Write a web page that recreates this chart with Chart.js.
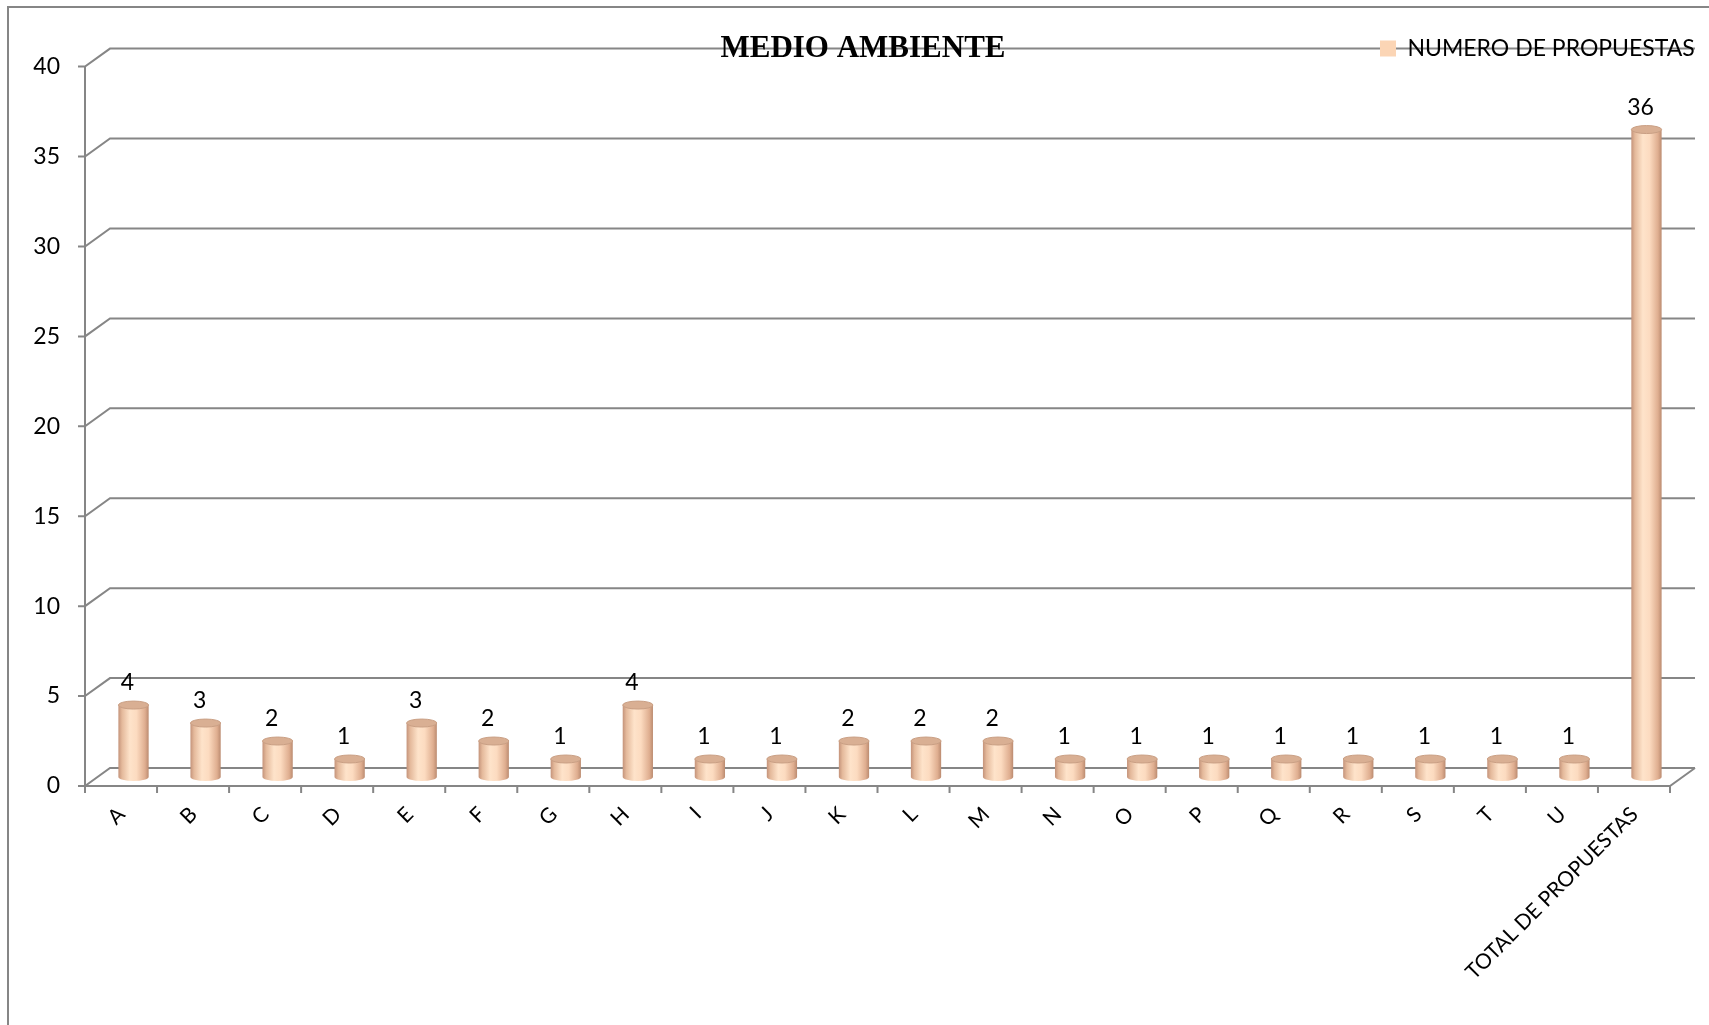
<!DOCTYPE html>
<html>
<head>
<meta charset="utf-8">
<script src="https://cdn.jsdelivr.net/npm/chart.js@4/dist/chart.umd.min.js"></script>
<style>
html,body{margin:0;padding:0;background:#fff;overflow:hidden}
#wrap{width:1709px;height:1025px;position:relative}
</style>
</head>
<body>
<div id="wrap"><canvas id="c"></canvas></div>
<script>
// ---- data ----
const chartTitle = 'MEDIO AMBIENTE';
const seriesName = 'NUMERO DE PROPUESTAS';
const categories = ['A','B','C','D','E','F','G','H','I','J','K','L','M','N','O','P','Q','R','S','T','U','TOTAL DE PROPUESTAS'];
const propuestas = [4,3,2,1,3,2,1,4,1,1,2,2,2,1,1,1,1,1,1,1,1,36];
const yTickValues = [0,5,10,15,20,25,30,35,40];

// ---- styling constants ----
const DX = 12.5, DY = 9;           // half depth of the pseudo-3D box
const GRID = '#868686';
const FONT = 'Lato';
const FLAT = '#fbd5b5';

function cylGradient(ctx, cx, hw) {
  if (!isFinite(cx) || !isFinite(hw) || hw <= 0) return FLAT;
  const g = ctx.createLinearGradient(cx - hw, 0, cx + hw, 0);
  g.addColorStop(0, '#c4937a');
  g.addColorStop(0.12, '#e4b99b');
  g.addColorStop(0.38, '#fee3ca');
  g.addColorStop(0.6, '#fcdbc0');
  g.addColorStop(0.88, '#dfae90');
  g.addColorStop(1, '#bb8b70');
  return g;
}

const depthPlugin = {
  id: 'depth',
  beforeDraw(chart) {
    const {ctx, chartArea: a, scales: {x, y}} = chart;
    // legend on the title line, top right (vertical-mode legend box)
    const lg = chart.legend;
    if (lg) {
      const w = lg.right - lg.left, h = lg.bottom - lg.top;
      lg.left = 1370; lg.right = lg.left + w;
      lg.top = 27; lg.bottom = lg.top + h;
    }
    // centre the title like the original
    const tb = chart.titleBlock;
    if (tb) { tb.left = 43.5; }
    ctx.save();
    ctx.strokeStyle = GRID;
    ctx.lineWidth = 2;
    // outer frame
    ctx.beginPath();
    ctx.moveTo(8, chart.height); ctx.lineTo(8, 7); ctx.lineTo(chart.width, 7);
    ctx.stroke();
    // wall gridlines + side diagonals + y tick marks
    y.ticks.forEach(t => {
      const py = y.getPixelForValue(t.value);
      ctx.beginPath();
      ctx.moveTo(a.left - DX - 7, py + DY);
      ctx.lineTo(a.left - DX, py + DY);
      ctx.lineTo(a.left + DX, py - DY);
      ctx.lineTo(a.right + DX, py - DY);
      ctx.stroke();
    });
    // front axes and floor
    const y0 = y.getPixelForValue(y.min), yTop = y.getPixelForValue(y.max);
    ctx.beginPath();
    ctx.moveTo(a.left - DX, yTop + DY);
    ctx.lineTo(a.left - DX, y0 + DY);
    ctx.lineTo(a.right - DX, y0 + DY);
    ctx.lineTo(a.right + DX, y0 - DY);
    ctx.stroke();
    // x tick marks at category boundaries
    const n = chart.data.labels.length;
    const half = (x.getPixelForValue(1) - x.getPixelForValue(0)) / 2;
    ctx.beginPath();
    for (let i = 0; i <= n; i++) {
      const px = x.getPixelForValue(i) - half - DX;
      ctx.moveTo(px, y0 + DY);
      ctx.lineTo(px, y0 + DY + 7);
    }
    ctx.stroke();
    ctx.restore();
  },
  afterDatasetsDraw(chart) {
    const {ctx} = chart;
    const meta = chart.getDatasetMeta(0);
    const data = chart.data.datasets[0].data;
    ctx.save();
    meta.data.forEach((bar, i) => {
      const hw = bar.width / 2, ry = 4;
      // bottom rounded edge
      ctx.fillStyle = cylGradient(ctx, bar.x, hw);
      ctx.beginPath();
      ctx.ellipse(bar.x, bar.base, hw, ry, 0, 0, Math.PI);
      ctx.fill();
      // top cap
      ctx.fillStyle = '#d9af93';
      ctx.strokeStyle = '#c99f84';
      ctx.lineWidth = 1;
      ctx.beginPath();
      ctx.ellipse(bar.x, bar.y, hw, ry, 0, 0, Math.PI * 2);
      ctx.fill();
      ctx.stroke();
      // value label
      ctx.fillStyle = '#000';
      ctx.font = '23px ' + FONT;
      ctx.textAlign = 'center';
      ctx.textBaseline = 'middle';
      ctx.fillText(String(data[i]), bar.x - 6, bar.y - 22);
    });
    ctx.restore();
  }
};

new Chart(document.getElementById('c'), {
  type: 'bar',
  data: {
    labels: categories,
    datasets: [{
      label: seriesName,
      data: propuestas,
      borderWidth: 0,
      barPercentage: 0.42,
      categoryPercentage: 1.0,
      backgroundColor: (c) => {
        const ch = c.chart;
        if (c.dataIndex === undefined || !ch.scales || !ch.scales.x || !ch.chartArea) return FLAT;
        const xs = ch.scales.x;
        const cx = xs.getPixelForValue(c.dataIndex);
        const hw = (xs.getPixelForValue(1) - xs.getPixelForValue(0)) * 0.42 / 2;
        return cylGradient(ch.ctx, cx, hw);
      }
    }]
  },
  options: {
    responsive: true,
    maintainAspectRatio: false,
    animation: false,
    events: [],
    layout: {padding: {left: 0, right: 26.5, top: 8, bottom: 0}},
    plugins: {
      title: {
        display: true,
        text: chartTitle,
        color: '#000',
        font: {family: 'Liberation Serif', size: 31, weight: 'bold', lineHeight: 0.5},
        padding: {top: 33.6, bottom: 0.5}
      },
      legend: {
        display: true,
        position: 'chartArea',
        align: 'start',
        labels: {
          boxWidth: 16,
          boxHeight: 16,
          color: '#000',
          padding: 10,
          font: {family: FONT, size: 23},
          generateLabels: (chart) =>
            Chart.defaults.plugins.legend.labels.generateLabels(chart)
              .map(l => Object.assign(l, {fillStyle: FLAT, strokeStyle: FLAT, lineWidth: 0}))
        }
      },
      tooltip: {enabled: false}
    },
    scales: {
      x: {
        type: 'category',
        grid: {display: false, drawTicks: false},
        border: {display: false},
        ticks: {
          autoSkip: false,
          minRotation: 45,
          maxRotation: 45,
          labelOffset: -12,
          padding: 25,
          color: '#000',
          font: {family: FONT, size: 21}
        },
        afterFit: (s) => { s.height = 248; }
      },
      y: {
        min: 0,
        max: 40,
        grid: {display: false, drawTicks: false},
        border: {display: false},
        afterBuildTicks: (s) => { s.ticks = yTickValues.map(v => ({value: v})); },
        ticks: {
          padding: 37.5,
          labelOffset: DY,
          color: '#000',
          font: {family: FONT, size: 23}
        },
        afterFit: (s) => { s.width = 97.5; }
      }
    }
  },
  plugins: [depthPlugin]
});
</script>
</body>
</html>
